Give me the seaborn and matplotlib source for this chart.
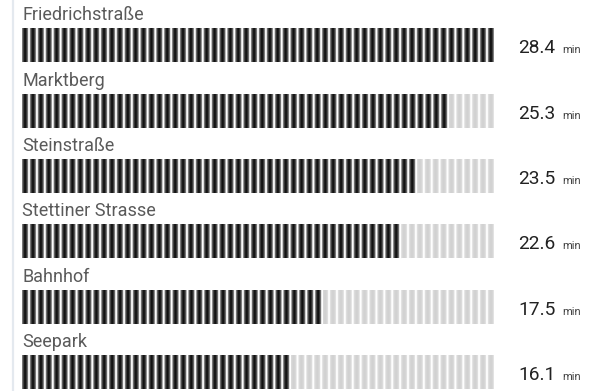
import numpy as np
import pandas as pd
import matplotlib
matplotlib.use("Agg")
import matplotlib.pyplot as plt
import seaborn as sns
from matplotlib.transforms import blended_transform_factory
from matplotlib.lines import Line2D

stations = ["Friedrichstraße", "Marktberg", "Steinstraße",
            "Stettiner Strasse", "Bahnhof", "Seepark"]
minutes = [28.4, 25.3, 23.5, 22.6, 17.5, 16.1]
filled_segments = [60, 54, 50, 48, 38, 34]   # dark segments
n_segments = 60
unit = "min"

sns.set_theme(style="white")
plt.rcParams['font.family'] = ['Roboto', 'DejaVu Sans']

df = pd.DataFrame({
    "station": stations,
    "minutes": minutes,
    "full": [n_segments] * len(stations),
    "filled": filled_segments,
})

W, H = 599, 391
fig = plt.figure(figsize=(W / 100, H / 100), dpi=100)
fig.patch.set_facecolor("white")
ax = fig.add_axes([22 / W, 0, (494 - 22) / W, 1])
bar_h = 0.52
sns.barplot(data=df, y="station", x="full", color="#d6d6d6", width=bar_h,
            ax=ax, orient="h", errorbar=None)
sns.barplot(data=df, y="station", x="filled", color="#111111", width=bar_h,
            ax=ax, orient="h", errorbar=None)

# segmented texture over each bar (one unit = one segment)
S = 40
fill_frac = 0.78
for patch in list(ax.patches):
    x0, y0 = patch.get_x(), patch.get_y()
    w, h = patch.get_width(), patch.get_height()
    nseg = int(round(w))
    if nseg <= 0:
        continue
    dark = patch.get_facecolor()[0] < 0.5
    t = ((np.arange(nseg * S) + 0.5) / S) % 1.0
    u = np.clip(t / fill_frac, 0, 1)
    d = np.abs(u - 0.5) * 2
    if dark:
        lev = 0.05 + 0.55 * d ** 1.5
    else:
        lev = 0.82 + 0.08 * d ** 2
    lev = np.where(t < fill_frac, lev, 1.0)
    img = np.tile(lev, (2, 1))
    ax.imshow(img, cmap="gray", vmin=0, vmax=1, aspect="auto",
              extent=(x0, x0 + nseg, y0 + h, y0), zorder=3 + (1 if dark else 0),
              interpolation="antialiased")

trans = blended_transform_factory(fig.transFigure, ax.transData)
for i, (name, v) in enumerate(zip(stations, minutes)):
    ax.text(0.02, i - 0.385, name, fontsize=13, color="#5a5a5a",
            va="baseline", ha="left", zorder=5)
    ax.text(518 / W, i + 0.12, f"{v:.1f}", transform=trans, fontsize=13.8,
            color="#222222", va="baseline", ha="left", clip_on=False)
    ax.text(562 / W, i + 0.12, unit, transform=trans, fontsize=8,
            color="#444444", va="baseline", ha="left", clip_on=False)

fig.add_artist(Line2D([12.5 / W] * 2, [0, 1], transform=fig.transFigure,
                      color="#e4e9ef", lw=1.6))

ax.axis("off")
ax.set_xlim(0, n_segments - (1 - fill_frac))
ax.set_ylim(5 + (H - 372) / 65.3, -45.5 / 65.3)

fig.savefig("out.png", dpi=100, facecolor="white")
